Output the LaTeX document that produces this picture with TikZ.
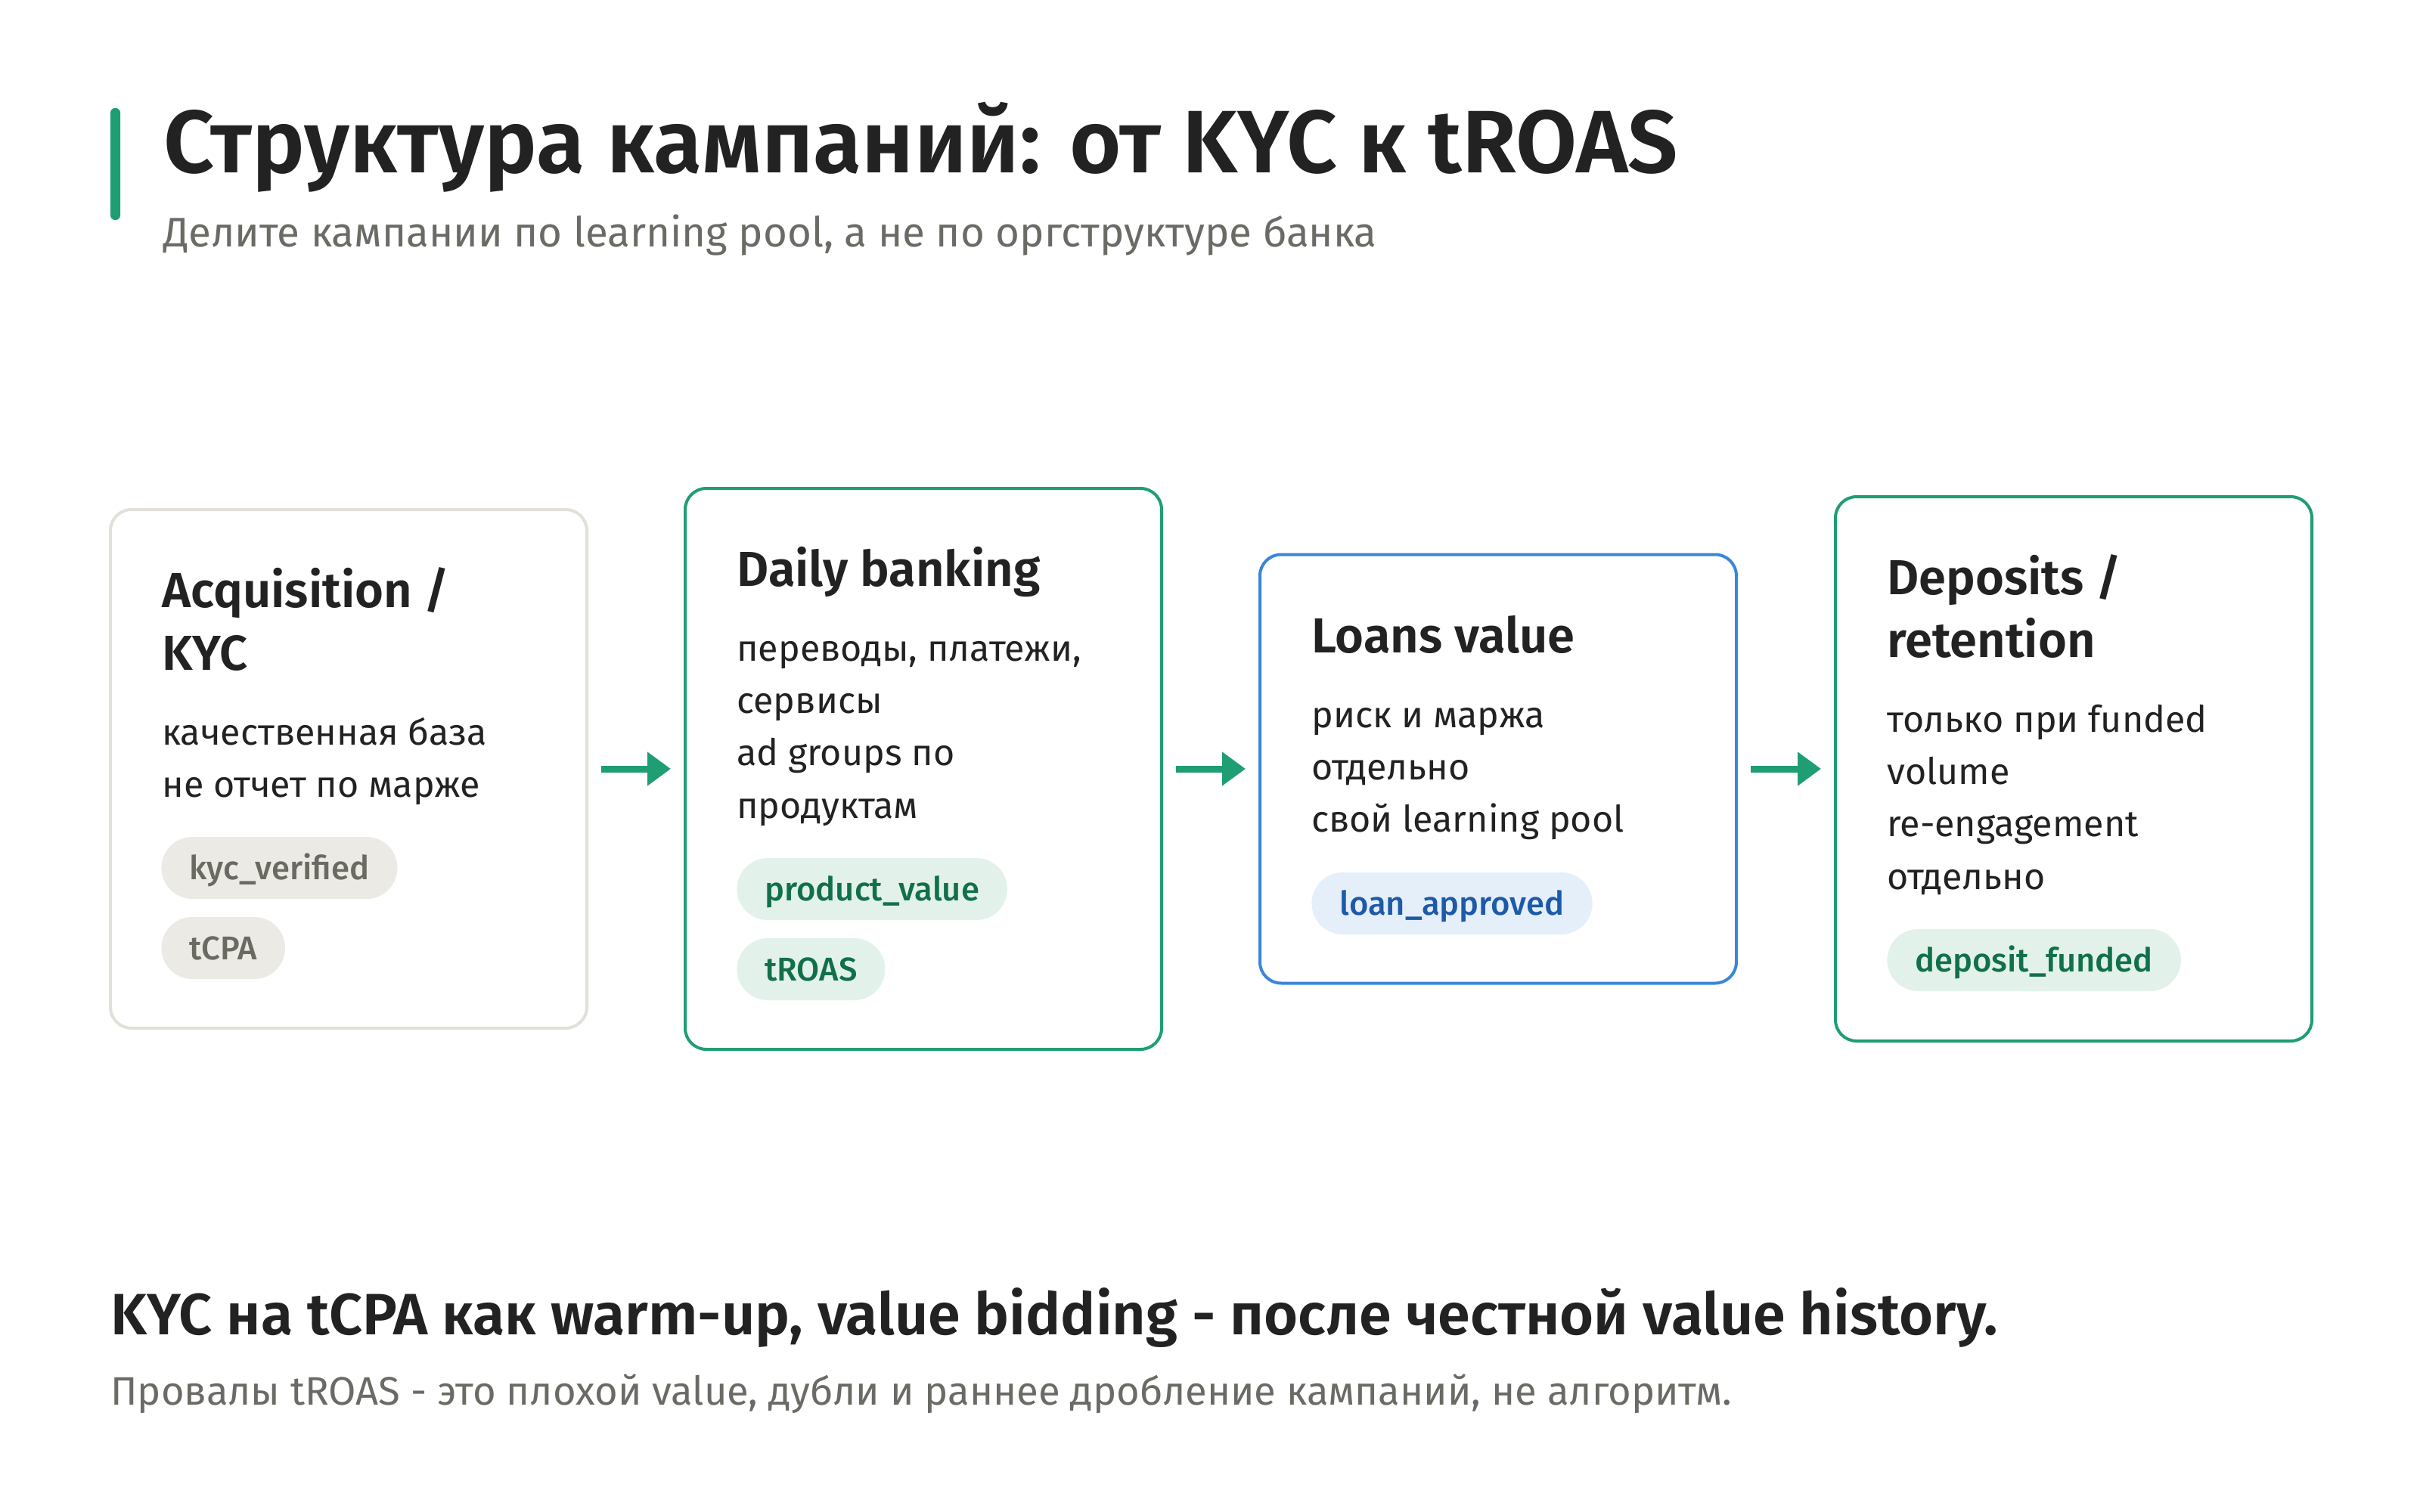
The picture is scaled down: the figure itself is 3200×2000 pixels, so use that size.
\documentclass[tikz,border=0pt]{standalone}
\usepackage{fontspec}
\setmainfont{Fira Sans}
\newfontfamily\headfont{Fira Sans SemiBold}
\newfontfamily\tagfont{Fira Sans Medium}
\usepackage{xcolor}
\usepackage{tikz}
\usetikzlibrary{arrows.meta}

\definecolor{ink}{HTML}{222222}
\definecolor{muted}{HTML}{6B6B66}
\definecolor{brand}{HTML}{1F9E73}
\definecolor{sky}{HTML}{3A86DA}
\definecolor{edge}{HTML}{E3E0D9}
\definecolor{greytag}{HTML}{ECEAE4}
\definecolor{greytagtext}{HTML}{6B6A62}
\definecolor{greentag}{HTML}{E2F2EB}
\definecolor{greentagtext}{HTML}{11704A}
\definecolor{bluetag}{HTML}{E5EFFA}
\definecolor{bluetagtext}{HTML}{1D5AA8}

\tikzset{
  card/.style={draw=#1,line width=2pt,rounded corners=14pt,minimum width=315pt,inner sep=0pt,fill=white},
  head/.style={anchor=base west,inner sep=0pt,text=ink,font=\headfont\fontsize{32.5}{38}\selectfont},
  line/.style={anchor=base west,inner sep=0pt,text=ink,font=\fontsize{24.2}{29}\selectfont},
  tag/.style={anchor=west,fill=#1,rounded corners=20.5pt,minimum height=41pt,inner xsep=18.5pt,inner ysep=0pt,
    text height=15pt,text depth=0pt,font=\tagfont\fontsize{21.8}{26}\selectfont},
  flow/.style={draw=brand,line width=4.5pt,-{Triangle[length=15.5pt,width=21.5pt]},shorten <=8.5pt,shorten >=8.5pt}
}

\begin{document}
\begin{tikzpicture}[x=0.5pt,y=-0.5pt]
  \useasboundingbox[fill=white] (0,0) rectangle (3200,2000);

  % header
  \fill[brand,rounded corners=3pt] (146,143) rectangle (159,291);
  \node[anchor=base west,inner sep=0pt,text=ink,font=\headfont\fontsize{58.7}{66}\selectfont] (title) at (216,229)
    {Структура кампаний: от KYC к tROAS};
  \node[anchor=base west,inner sep=0pt,text=muted,font=\fontsize{27.35}{33}\selectfont] (subtitle) at (216,327)
    {Делите кампании по learning pool, а не по оргструктуре банка};

  % cards
  \node[card=edge,minimum height=343pt] (acq) at (461,1017) {};
  \node[card=brand,minimum height=371pt] (daily) at (1221,1017) {};
  \node[card=sky,minimum height=283.5pt] (loans) at (1981,1017) {};
  \node[card=brand,minimum height=360pt] (deposits) at (2742,1017) {};

  \draw[flow] (acq.east) -- (daily.west);
  \draw[flow] (daily.east) -- (loans.west);
  \draw[flow] (loans.east) -- (deposits.west);

  % acquisition
  \node[head] (acq-h1) at (214,803) {Acquisition /};
  \node[head] (acq-h2) at (214,886) {KYC};
  \foreach \txt [count=\i] in {качественная база,не отчет по марже}
    \node[line] (acq-l\i) at (214,915.6+\i*69.4) {\txt};
  \node[tag=greytag,text=greytagtext] (acq-t1) at (213,1148) {kyc\_verified};
  \node[tag=greytag,text=greytagtext] (acq-t2) at (213,1254) {tCPA};

  % daily banking
  \node[head] (daily-h1) at (974,775) {Daily banking};
  \foreach \txt [count=\i] in {{переводы, платежи,},сервисы,ad groups по,продуктам}
    \node[line] (daily-l\i) at (974,804.6+\i*69.4) {\txt};
  \node[tag=greentag,text=greentagtext] (daily-t1) at (974,1176) {product\_value};
  \node[tag=greentag,text=greentagtext] (daily-t2) at (974,1282) {tROAS};

  % loans
  \node[head] (loans-h1) at (1734,863) {Loans value};
  \foreach \txt [count=\i] in {риск и маржа,отдельно,свой learning pool}
    \node[line] (loans-l\i) at (1734,892.6+\i*69.4) {\txt};
  \node[tag=bluetag,text=bluetagtext] (loans-t1) at (1734,1195) {loan\_approved};

  % deposits
  \node[head] (dep-h1) at (2495,786) {Deposits /};
  \node[head] (dep-h2) at (2495,869) {retention};
  \foreach \txt [count=\i] in {только при funded,volume,re-engagement,отдельно}
    \node[line] (dep-l\i) at (2495,898.6+\i*69.4) {\txt};
  \node[tag=greentag,text=greentagtext] (dep-t1) at (2495,1270) {deposit\_funded};

  % footer
  \node[anchor=base west,inner sep=0pt,text=ink,font=\headfont\fontsize{38.6}{45}\selectfont] (takeaway) at (146,1765)
    {KYC на tCPA как warm-up, value bidding - после честной value history.};
  \node[anchor=base west,inner sep=0pt,text=muted,font=\fontsize{26.3}{31}\selectfont] (note) at (146,1858)
    {Провалы tROAS - это плохой value, дубли и раннее дробление кампаний, не алгоритм.};
\end{tikzpicture}
\end{document}
